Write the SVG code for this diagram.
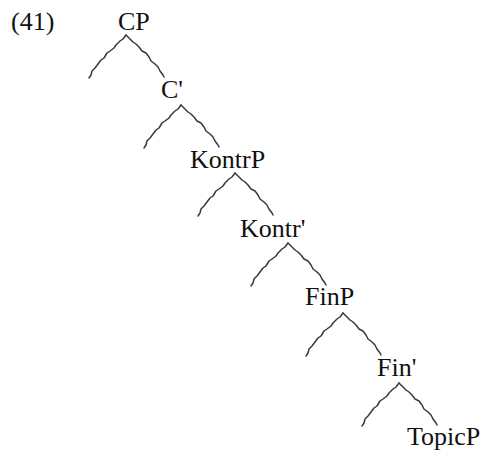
<svg xmlns="http://www.w3.org/2000/svg" xmlns:xlink="http://www.w3.org/1999/xlink" width="487" height="450" viewBox="0 0 487 450">
  <style>
    text { font-family: "Liberation Serif", "Times New Roman", serif; font-size: 26px; fill: #111; }
    .br { fill: none; stroke: #3a3a3a; stroke-width: 1.5; stroke-linejoin: round; stroke-linecap: round; }
  </style>
  <defs>
    <!-- slightly jagged branch shapes, drawn from the apex (0,0) downward -->
    <path id="leftBranch" class="br" d="M0,0 L-3,4 L-6,6 L-10,10 L-12,13 L-16,16 L-19,18 L-22,23 L-25,25 L-28,29 L-31,33 L-34,36 L-35,40 L-37,43"/>
    <path id="rightBranch" class="br" d="M0,0 L4,4 L7,7 L10,9 L13,12 L16,16 L20,18 L23,22 L25,26 L29,29 L32,32 L34,36 L37,40 L38,42"/>
  </defs>

  <!-- example number -->
  <text x="11" y="30">(41)</text>

  <!-- branches -->
  <g id="connectors">
    <use xlink:href="#leftBranch" x="126" y="35"/>
    <use xlink:href="#rightBranch" x="126" y="35"/>
    <use xlink:href="#leftBranch" x="181" y="105"/>
    <use xlink:href="#rightBranch" x="181" y="105"/>
    <use xlink:href="#leftBranch" x="235" y="173"/>
    <use xlink:href="#rightBranch" x="235" y="173"/>
    <use xlink:href="#leftBranch" x="288" y="243"/>
    <use xlink:href="#rightBranch" x="288" y="243"/>
    <use xlink:href="#leftBranch" x="343" y="313"/>
    <use xlink:href="#rightBranch" x="343" y="313"/>
    <use xlink:href="#leftBranch" x="399" y="383"/>
    <use xlink:href="#rightBranch" x="399" y="383"/>
  </g>

  <!-- labelled nodes -->
  <g id="node-CP"><text x="118" y="30">CP</text></g>
  <g id="node-Cbar"><text x="161" y="98">C'</text></g>
  <g id="node-KontrP"><text x="190" y="168">KontrP</text></g>
  <g id="node-Kontrbar"><text x="240" y="237">Kontr'</text></g>
  <g id="node-FinP"><text x="305" y="305">FinP</text></g>
  <g id="node-Finbar"><text x="377" y="376">Fin'</text></g>
  <g id="node-TopicP"><text x="407" y="445">TopicP</text></g>
</svg>
